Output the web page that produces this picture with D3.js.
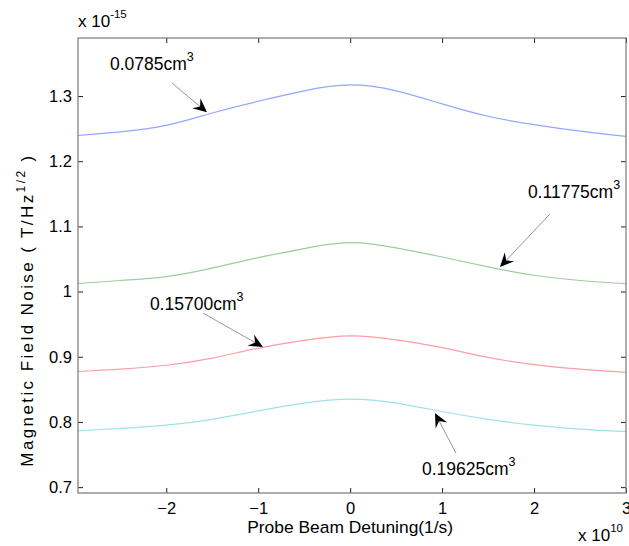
<!DOCTYPE html>
<html>
<head>
<meta charset="utf-8">
<script src="https://cdnjs.cloudflare.com/ajax/libs/d3/7.8.5/d3.min.js"></script>
<style>
  body { margin: 0; background: #fff; }
  svg text { font-family: "Liberation Sans", Arial, Helvetica, sans-serif; fill: #000; }
</style>
</head>
<body>
<div id="chart"></div>
<script>
// detuning, units of 1e10 1/s
const detuning = [-3, -2.5, -2, -1.5, -1, -0.5, 0, 0.5, 1, 1.5, 2, 2.5, 3];

// magnetic field noise, units of 1e-15 T/Hz^1/2
const noise0785  = [1.239, 1.245, 1.255, 1.274, 1.292, 1.308, 1.317, 1.308, 1.288, 1.269, 1.256, 1.246, 1.238];
const noise11775 = [1.012, 1.017, 1.023, 1.036, 1.052, 1.066, 1.075, 1.067, 1.053, 1.038, 1.025, 1.017, 1.012];
const noise15700 = [0.877, 0.881, 0.887, 0.898, 0.913, 0.925, 0.932, 0.926, 0.914, 0.899, 0.888, 0.881, 0.876];
const noise19625 = [0.786, 0.790, 0.795, 0.804, 0.817, 0.829, 0.835, 0.829, 0.816, 0.804, 0.795, 0.789, 0.785];

const seriesColors = ["#93a6fb", "#9fcc9f", "#fb9ea6", "#9fe2e4"];

const xTicks = [-2, -1, 0, 1, 2, 3];
const yTicks = [0.7, 0.8, 0.9, 1.0, 1.1, 1.2, 1.3];

// annotation labels: text anchor, arrow tail, arrow tip (data units)
const annoLabels = ["0.0785cm", "0.11775cm", "0.15700cm", "0.19625cm"];
const annoText = [[-2.612, 1.340], [1.933, 1.1435], [-2.178, 0.9717], [0.781, 0.7186]];
const annoTail = [[-1.938, 1.320], [2.173, 1.119], [-1.601, 0.967], [1.151, 0.752]];
const annoTip  = [[-1.557, 1.275], [1.629, 1.0377], [-0.948, 0.915], [0.922, 0.8137]];

const W = 629, H = 546;
const margin = { top: 38, right: 3, bottom: 53, left: 78 };
const width = W - margin.left - margin.right;
const height = H - margin.top - margin.bottom;

const svg = d3.select('#chart')
  .append('svg')
  .attr('width', W)
  .attr('height', H);

const g = svg.append('g')
  .attr('transform', `translate(${margin.left},${margin.top})`);

const xScale = d3.scaleLinear().domain([-2.96, 3]).range([0, width]);
const yScale = d3.scaleLinear().domain([0.691, 1.389]).range([height, 0]);

// curves
const series = [noise0785, noise11775, noise15700, noise19625];
const line = d3.line()
  .x((d, i) => xScale(detuning[i]))
  .y(d => yScale(d))
  .curve(d3.curveNatural);

g.append('defs').append('clipPath').attr('id', 'plotclip')
  .append('rect').attr('width', width).attr('height', height);

g.append('g').attr('clip-path', 'url(#plotclip)')
  .selectAll('path.curve')
  .data(series)
  .enter()
  .append('path')
  .attr('class', 'curve')
  .attr('d', line)
  .attr('fill', 'none')
  .attr('stroke', (d, i) => seriesColors[i])
  .attr('stroke-width', 1.2);

// axes: inward ticks on all four sides
const tickLen = 5;
g.append('g')
  .attr('transform', `translate(0,${height})`)
  .call(d3.axisBottom(xScale).tickValues(xTicks).tickSize(-tickLen).tickPadding(9).tickFormat(d3.format('d')))
  .call(a => a.select('.domain').remove())
  .call(a => a.selectAll('text').style('font-size', '16.5px'));

g.append('g')
  .call(d3.axisTop(xScale).tickValues(xTicks).tickSize(-tickLen).tickFormat(''))
  .call(a => a.select('.domain').remove());

g.append('g')
  .call(d3.axisLeft(yScale).tickValues(yTicks).tickSize(-tickLen).tickPadding(6)
    .tickFormat(d => d === 1 ? '1' : d3.format('.1f')(d)))
  .call(a => a.select('.domain').remove())
  .call(a => a.selectAll('text').style('font-size', '16.5px'));

g.append('g')
  .attr('transform', `translate(${width},0)`)
  .call(d3.axisRight(yScale).tickValues(yTicks).tickSize(-tickLen).tickFormat(''))
  .call(a => a.select('.domain').remove());

g.selectAll('.tick line').attr('stroke', '#222');

// frame
g.append('rect')
  .attr('width', width)
  .attr('height', height)
  .attr('fill', 'none')
  .attr('stroke', '#777')
  .attr('stroke-width', 1.2);

// exponent labels
const expTop = svg.append('text')
  .attr('x', margin.left)
  .attr('y', 27)
  .style('font-size', '17px');
expTop.append('tspan').text('x 10');
expTop.append('tspan').attr('dy', -9).style('font-size', '11.5px').text('-15');

const expBot = svg.append('text')
  .attr('x', 578)
  .attr('y', 541)
  .style('font-size', '17px');
expBot.append('tspan').text('x 10');
expBot.append('tspan').attr('dy', -9).style('font-size', '11.5px').text('10');

// axis titles
svg.append('text')
  .attr('x', xScale(0) + margin.left)
  .attr('y', 533)
  .attr('text-anchor', 'middle')
  .style('font-size', '17.4px')
  .text('Probe Beam Detuning(1/s)');

const yl = svg.append('text')
  .attr('transform', 'translate(33,310) rotate(-90)')
  .attr('text-anchor', 'middle')
  .style('font-size', '17px')
  .style('letter-spacing', '2.4px');
yl.append('tspan').text('Magnetic Field Noise ( T/Hz');
yl.append('tspan').attr('dy', -8).style('font-size', '12px').text('1/2');
yl.append('tspan').attr('dy', 8).text(' )');

// annotations
annoLabels.forEach((lab, i) => {
  const t = g.append('text')
    .attr('x', xScale(annoText[i][0]))
    .attr('y', yScale(annoText[i][1]))
    .style('font-size', '17.5px');
  t.append('tspan').text(lab);
  t.append('tspan').attr('dy', -9).style('font-size', '12.5px').text('3');

  const x1 = xScale(annoTail[i][0]), y1 = yScale(annoTail[i][1]);
  const x2 = xScale(annoTip[i][0]), y2 = yScale(annoTip[i][1]);
  const ang = Math.atan2(y2 - y1, x2 - x1);
  const len = 14, half = 6.5, notch = 9;
  const bx = x2 - len * Math.cos(ang), by = y2 - len * Math.sin(ang);
  const nx = x2 - notch * Math.cos(ang), ny = y2 - notch * Math.sin(ang);
  const px = -Math.sin(ang), py = Math.cos(ang);

  g.append('line')
    .attr('x1', x1).attr('y1', y1)
    .attr('x2', nx).attr('y2', ny)
    .attr('stroke', '#8a8a8a')
    .attr('stroke-width', 0.9);

  g.append('path')
    .attr('d', `M${x2},${y2}L${bx + px * half},${by + py * half}L${nx},${ny}L${bx - px * half},${by - py * half}Z`)
    .attr('fill', '#000');
});
</script>
</body>
</html>
